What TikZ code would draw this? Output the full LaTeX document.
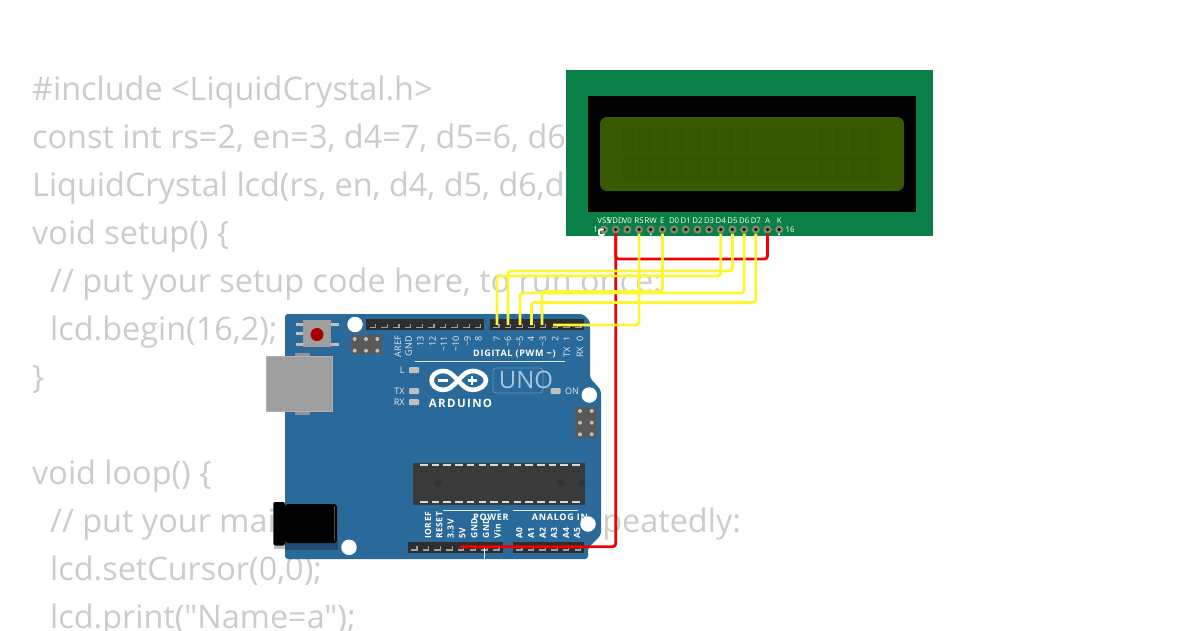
\documentclass[tikz,border=0pt]{standalone}
\usepackage{fontspec}
\setmainfont[Ligatures=TeXOff]{Open Sans}
\usepackage{xcolor}
\usetikzlibrary{positioning}
\definecolor{codegray}{HTML}{CCCCCC}
\definecolor{lcdgreen}{HTML}{0A7F48}
\definecolor{lcdscreen}{HTML}{385A00}
\definecolor{lcdcell}{HTML}{365600}
\definecolor{boardblue}{HTML}{2A6A9A}
\definecolor{boardshade}{HTML}{1F4D73}
\definecolor{boardtext}{HTML}{E3EBF2}
\definecolor{unoblue}{HTML}{A9C6DE}
\definecolor{headerdark}{HTML}{2E2E2E}
\definecolor{chipdark}{HTML}{3A3A3A}
\definecolor{pinbrown}{HTML}{8C8A6C}
\definecolor{wireyellow}{HTML}{FFF633}
\definecolor{wirered}{HTML}{F00000}
\tikzset{
  codeline/.style={anchor=base west, inner sep=0pt, text=codegray, font=\fontsize{32.4}{38}\selectfont},
  lcdlabel/.style={inner sep=0pt, text=white, font=\fontsize{7.8}{9}\selectfont},
  digitlabel/.style={rotate=90, anchor=east, inner sep=0pt, text=boardtext, font=\fontsize{9}{10}\selectfont},
  powerlabel/.style={rotate=90, anchor=west, inner sep=0pt, text=white, font=\bfseries\fontsize{8.5}{10}\selectfont\addfontfeature{LetterSpace=6}},
  headlabel/.style={inner sep=0pt, text=white, font=\bfseries\fontsize{9}{10}\selectfont\addfontfeature{LetterSpace=8}},
  ledlabel/.style={inner sep=0pt, text=boardtext, font=\fontsize{9}{10}\selectfont},
  hole/.style={circle, fill=white, inner sep=0pt, minimum size=15.5pt},
  led/.style={rectangle, rounded corners=1pt, fill=lightgray, inner sep=0pt, minimum width=10pt, minimum height=6pt},
  pinmark/.style={draw=gray!75, line width=1.2pt},
  yellowwire/.style={draw=wireyellow, line width=2.8pt, rounded corners=3pt},
  redwire/.style={draw=wirered, line width=2.8pt, rounded corners=3pt},
  whitewire/.style={draw=white, line width=1.8pt},
}
\begin{document}
\begin{tikzpicture}[x=1pt, y=-1pt]
  \useasboundingbox (0,0) rectangle (1200,630);

  \node[codeline] (code1) at (32,100) {\#include <LiquidCrystal.h>};
  \node[codeline] (code2) at (32,148) {const int rs=2, en=3, d4=7, d5=6, d6};
  \node[codeline] (code3) at (32,196) {LiquidCrystal lcd(rs, en, d4, d5, d6,d};
  \node[codeline] (code4) at (32,244) {void setup() \{};
  \node[codeline] (code5) at (50,292) {// put your setup code here, to run once:};
  \node[codeline] (code6) at (50,340) {lcd.begin(16,2);};
  \node[codeline] (code7) at (32,388) {\}};
  \node[codeline] (code8) at (32,484) {void loop() \{};
  \node[codeline] (code9) at (50,532) {// put your main code here, to run repeatedly:};
  \node[codeline] (code10) at (50,580) {lcd.setCursor(0,0);};
  \node[codeline] (code11) at (50,628) {lcd.print("Name=a");};

  \fill[lcdgreen] (565.5,70) rectangle (933,235.5);
  \fill[black] (588,96) rectangle (916,212);
  \fill[lcdscreen, rounded corners=7pt] (600,117) rectangle (904,191);
  \foreach \i in {0,...,15} {
    \fill[lcdcell] (622+16.3*\i,128) rectangle ++(14.3,24);
    \fill[lcdcell] (622+16.3*\i,156) rectangle ++(14.3,24);
  }

  \foreach \name/\lab [count=\i from 0] in {vss/VSS,vdd/VDD,vo/V0,rs/RS,rw/RW,en/E,dzero/D0,done/D1,dtwo/D2,dthree/D3,dfour/D4,dfive/D5,dsix/D6,dseven/D7,anode/A,kathode/K} {
    \node[circle, fill=pinbrown, inner sep=0pt, minimum size=8pt] (\name) at (604+11.68*\i,229.5) {};
    \node[circle, fill=black, inner sep=0pt, minimum size=3.5pt] (\name hole) at (\name) {};
    \node[lcdlabel] (\name label) at (604+11.68*\i,220.7) {\lab};
  }
  \node[lcdlabel] (lcdone) at (595.5,229.5) {1};
  \node[lcdlabel] (lcdsixteen) at (790,229.5) {16};
  \coordinate (vssend) at (604,235);
  \coordinate (rwend) at (650.7,235);
  \coordinate (kend) at (779,235);
  \draw[whitewire, rounded corners=1pt] (vss) -- (vssend) -- ++(-5,0) -- ++(0,-5.5) -- ++(5,0);
  \draw[whitewire] (rw) -- (rwend);
  \draw[whitewire] (kathode) -- (kend);

  \fill[boardblue, rounded corners=3pt] (285,314) -- (583,314) -- (590,321) -- (590,378) -- (601,390) -- (601,535) -- (588,548) -- (588,559) -- (285,559) -- cycle;
  \node[hole] (holea) at (355,324.5) {};
  \node[hole] (holeb) at (589.3,395) {};
  \node[hole] (holec) at (349,547.3) {};
  \node[hole] (holed) at (588,524) {};

  \fill[lightgray] (296,322.5) rectangle (339,325.5);
  \fill[lightgray] (296,342.5) rectangle (339,345.5);
  \fill[lightgray] (296,332) rectangle (303,335);
  \fill[gray!75] (302.7,320) rectangle (331,347.3);
  \node[circle, fill=red!65!black, inner sep=0pt, minimum size=13pt] (resetbtn) at (317,334.5) {};

  \fill[gray!70!black] (350.7,335) rectangle (381.7,354.3);
  \foreach \x in {354.7,366,377.3} \foreach \y in {339,350.7} \fill[lightgray] (\x,\y) circle (2);

  \fill[gray!85] (295,353) rectangle (310,415);
  \fill[gray!75, draw=gray!60, line width=1pt] (266.7,356.7) rectangle (332.7,411);

  \fill[headerdark] (366,319.3) rectangle (484,330);
  \fill[headerdark] (490,319.3) rectangle (584,330);
  \foreach \i in {0,...,9} \draw[pinmark] (369.5+11.7*\i,327.5) -- ++(6,0) -- ++(0,-4);
  \foreach \i in {0,...,7} \draw[pinmark] (493+11.7*\i,327.5) -- ++(6,0) -- ++(0,-4);
  \fill[headerdark] (407.7,541.7) rectangle (502.7,552.7);
  \fill[headerdark] (513,541.7) rectangle (584,552.7);
  \foreach \i in {0,...,7} \draw[pinmark] (411+11.7*\i,550) -- ++(6,0) -- ++(0,-4);
  \foreach \i in {0,...,5} \draw[pinmark] (516+11.7*\i,550) -- ++(6,0) -- ++(0,-4);

  \foreach \name/\x/\lab in {aref/398/AREF,agnd/408.7/GND,pthirteen/420.5/13,ptwelve/432.5/12,peleven/444/\textasciitilde11,pten/456/\textasciitilde10,pnine/467.5/\textasciitilde9,peight/478.5/8,pseven/497/7,psix/508/\textasciitilde6,pfive/520/\textasciitilde5,pfour/531/4,pthree/543/\textasciitilde3,ptwo/555/2,pone/567/1,pzero/580/0}
    \node[digitlabel] (\name) at (\x,336) {\lab};
  \node[digitlabel] (txpin) at (567,347) {TX};
  \node[digitlabel] (rxpin) at (580,347) {RX};
  \node[headlabel, anchor=west] (digital) at (473,354) {DIGITAL (PWM \textasciitilde)};
  \draw[boardtext, line width=0.8pt] (415,361) -- (565,361);

  \node[led] (ledl) at (414,370) {};
  \node[led] (ledtx) at (414,391) {};
  \node[led] (ledrx) at (414,402) {};
  \node[led] (ledon) at (555.7,391) {};
  \node[ledlabel, left=4pt of ledl] (labl) {L};
  \node[ledlabel, left=4pt of ledtx] (labtx) {TX};
  \node[ledlabel, left=4pt of ledrx] (labrx) {RX};
  \node[ledlabel, right=4pt of ledon] (labon) {ON};

  \draw[white, line width=4.6pt] (458,380.4) .. controls (452,374) and (449,371) .. (443.5,371) .. controls (436,371) and (431.6,375.5) .. (431.6,380.4) .. controls (431.6,385.3) and (436,389.8) .. (443.5,389.8) .. controls (449,389.8) and (452,386.8) .. (458,380.4) .. controls (464,374) and (467,371) .. (472.5,371) .. controls (480,371) and (486,375.5) .. (486,380.4) .. controls (486,385.3) and (480,389.8) .. (472.5,389.8) .. controls (467,389.8) and (464,386.8) .. (458,380.4) -- cycle;
  \fill[white] (438,379.2) rectangle (448,381.6);
  \fill[white] (467.5,379.2) rectangle (477,381.6);
  \fill[white] (471,375.6) rectangle (473.4,385.2);
  \node[inner sep=0pt, text=white, font=\bfseries\fontsize{11.5}{14}\selectfont\addfontfeature{LetterSpace=12}] (arduino) at (460.5,403) {ARDUINO};
  \draw[unoblue!45!boardblue, line width=0.8pt, rounded corners=3pt] (493,368) rectangle (543,393);
  \node[inner sep=0pt, text=unoblue, font=\fontsize{24}{28}\selectfont] (uno) at (526,380) {UNO};

  \fill[gray!70!black] (575,406.7) rectangle (597,438);
  \foreach \x in {580,591.7} \foreach \y in {411,422.7,434.3} \fill[lightgray] (\x,\y) circle (2);

  \fill[chipdark] (413.3,462.7) rectangle (585,505);
  \foreach \i in {0,...,13} {
    \fill[white!85!black] (420+11.7*\i,464) rectangle ++(7.5,2.2);
    \fill[white!85!black] (420+11.7*\i,501) rectangle ++(7.5,2.2);
  }
  \fill[black!80] (438.3,482.7) circle (4);
  \fill[black!80] (560.7,482.7) circle (4);
  \fill[black!80] (581.7,483) circle (3.3);

  \fill[boardshade] (285,540) rectangle (338,550);
  \fill[black, rounded corners=3pt] (285,504) rectangle (337,543);
  \draw[gray!60!black, line width=0.8pt] (334.5,506) -- (334.5,541);
  \fill[lightgray] (274,545) rectangle (285,549);
  \fill[black, rounded corners=2pt] (273.3,502) rectangle (285,545.5);

  \foreach \name/\x/\lab in {ioref/428/IOREF,reset/439.3/RESET,vthree/450.7/3.3V,vfive/462.3/5V,gnda/474.3/GND,gndb/486/GND,vin/497.3/Vin,azero/519.3/A0,aone/531/A1,atwo/542.7/A2,athree/554/A3,afour/566/A4,afive/577/A5}
    \node[powerlabel] (\name) at (\x,538.8) {\lab};
  \node[headlabel, anchor=west] (powerlab) at (473,517.7) {POWER};
  \node[headlabel, anchor=west] (analoglab) at (531.7,517.7) {ANALOG IN};
  \draw[boardtext, line width=0.8pt] (442.7,510.3) -- (500,510.3);
  \draw[boardtext, line width=0.8pt] (513.3,510.3) -- (578,510.3);

  \coordinate (pinseven) at (497,325);
  \coordinate (pinsix) at (508,325);
  \coordinate (pinfive) at (520,325);
  \coordinate (pinfour) at (531.5,325);
  \coordinate (pinthree) at (542,325);
  \coordinate (pintwo) at (553,325);
  \coordinate (pinfivev) at (460,546.7);
  \coordinate (pingnd) at (484.5,546.7);
  \coordinate (gndend) at (484.5,560);

  \draw[whitewire] (pingnd) -- (gndend);
  \draw[redwire] (vdd) |- (pinfivev);
  \draw[redwire] (vdd) -- ++(0,29.5) -| (anode);
  \draw[yellowwire] (rs) |- (pintwo);
  \draw[yellowwire] (en) -- ++(0,62) -| (pinthree);
  \draw[yellowwire] (dfour) -- ++(0,46.5) -| (pinseven);
  \draw[yellowwire] (dfive) -- ++(0,41.5) -| (pinsix);
  \draw[yellowwire] (dsix) -- ++(0,63.5) -| (pinfive);
  \draw[yellowwire] (dseven) -- ++(0,73) -| (pinfour);
\end{tikzpicture}
\end{document}
